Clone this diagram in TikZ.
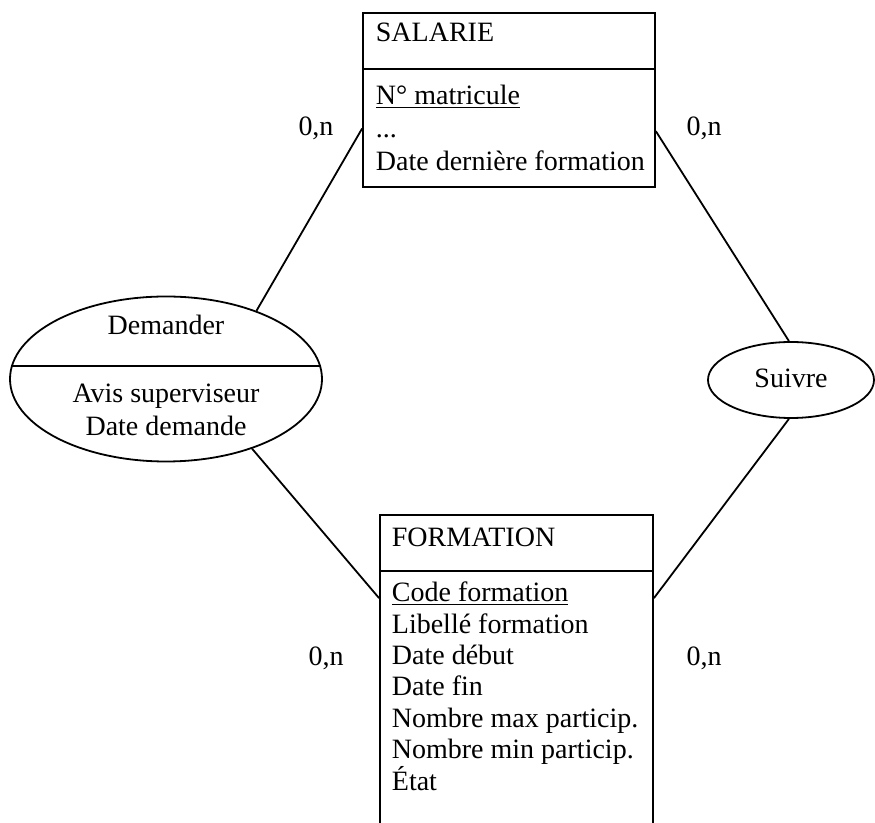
\documentclass[tikz,border=0pt]{standalone}
\usepackage{fontspec}
\setmainfont{Liberation Serif}
\usetikzlibrary{shapes.geometric}

\begin{document}
\begin{tikzpicture}[x=0.5pt,y=-0.5pt,line width=0.9pt,
    every node/.style={font=\fontsize{14}{16.5}\selectfont},
    entity/.style={draw,rectangle,inner sep=0pt},
    assoc/.style={draw,ellipse,inner sep=0pt},
    attr/.style={anchor=north west,align=left,inner sep=0pt},
    card/.style={inner sep=0pt}]
    \clip (0,0) rectangle (875,823);

    % entites
    \node[entity, minimum width=146pt, minimum height=87pt] (sal) at (509,100) {};
    \node[entity, minimum width=136.5pt, minimum height=162.5pt] (form) at (516.5,677.5) {};
    \draw ([shift={(0,57)}]sal.north west) -- ([shift={(0,57)}]sal.north east);
    \draw ([shift={(0,57)}]form.north west) -- ([shift={(0,57)}]form.north east);

    \node[anchor=base west, inner sep=0pt] (salT) at (375,42) {SALARIE};
    \node[attr] (salA) at (375,84) {\underline{N° matricule}\\...\\Date dernière formation};
    \node[anchor=base west, inner sep=0pt] (formT) at (391,547) {FORMATION};
    \node[attr, font=\fontsize{14}{15.7}\selectfont] (formA) at (391,581)
        {\underline{Code formation}\\Libellé formation\\Date début\\Date fin\\Nombre max particip.\\Nombre min particip.\\État};

    % associations
    \node[assoc, minimum width=156pt, minimum height=82.5pt] (dem) at (166,379) {};
    \draw ([shift={(-154,-13)}]dem.center) -- ([shift={(154,-13)}]dem.center);
    \node[anchor=base, inner sep=0pt] (demT) at (166,335) {Demander};
    \node[anchor=north, align=center, inner sep=0pt] (demA) at (166,383) {Avis superviseur\\Date demande};

    \node[assoc, minimum width=83pt, minimum height=38pt] (suiv) at (791,380) {};
    \node[anchor=base, inner sep=0pt] (suivT) at (791,388) {Suivre};

    % liens
    \path (sal.191) edge (dem.37)
          (dem.-39) edge (form.150)
          (sal.348) edge (suiv.93)
          (suiv.267) edge (form.30);

    \node[card] (c1) at (316,128) {0,n};
    \node[card] (c2) at (704,128) {0,n};
    \node[card] (c3) at (326,658) {0,n};
    \node[card] (c4) at (704,658) {0,n};
\end{tikzpicture}
\end{document}
